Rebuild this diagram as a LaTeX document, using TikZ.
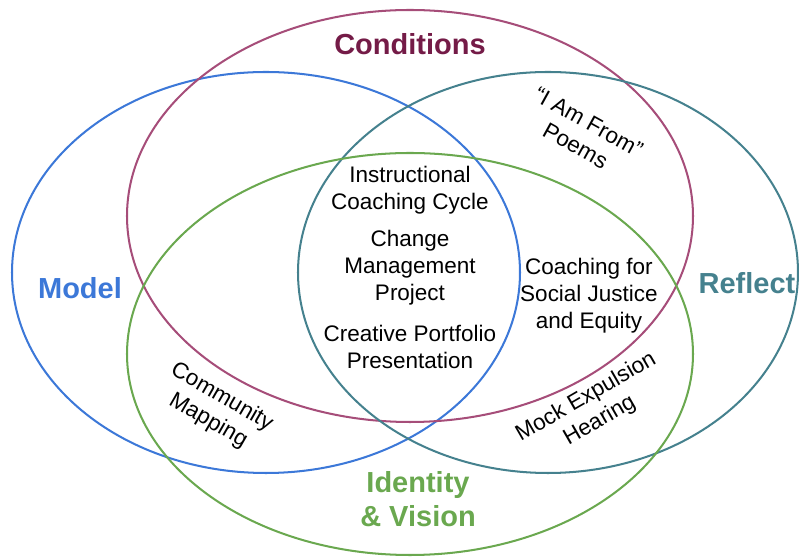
\documentclass[tikz,border=0pt]{standalone}
\usepackage{fontspec}
\setmainfont{Liberation Sans}
\usepackage{xcolor}
\usetikzlibrary{positioning}
\definecolor{gModel}{HTML}{3C78D8}
\definecolor{gCond}{HTML}{A64D79}
\definecolor{gCondText}{HTML}{741B47}
\definecolor{gReflect}{HTML}{45818E}
\definecolor{gIdent}{HTML}{6AA84F}
\tikzset{
  setring/.style={draw=#1, line width=1.15pt},
  setname/.style={font=\fontsize{16.5}{19.5}\selectfont\bfseries, text=#1, align=center, inner sep=0pt},
  item/.style={font=\fontsize{12.8}{15.4}\selectfont, align=center, inner sep=0pt}
}

\begin{document}
\begin{tikzpicture}
\useasboundingbox (0,0) rectangle (15.98,11.14);

% The four sets
\draw[setring=gModel]   (5.32,5.69) ellipse [x radius=5.08, y radius=4.01];
\draw[setring=gCond]    (8.20,6.82) ellipse [x radius=5.66, y radius=4.12];
\draw[setring=gReflect] (10.96,5.69) ellipse [x radius=5.00, y radius=4.01];
\draw[setring=gIdent]   (8.20,4.06) ellipse [x radius=5.66, y radius=4.02];

% Set names
\node[setname=gCondText] (conditions) at (8.20,10.26) {Conditions};
\node[setname=gModel]    (model)      at (1.60,5.38) {Model};
\node[setname=gReflect]  (reflect)    at (14.94,5.48) {Reflect};
\node[setname=gIdent]    (identity)   at (8.36,1.16) {Identity\\\& Vision};

% Centre of the diagram
\node[item] (coaching)  at (8.20,7.34) {Instructional\\Coaching Cycle};
\node[item] (change)    at (8.20,5.78) {Change\\Management\\Project};
\node[item] (portfolio) at (8.20,4.20) {Creative Portfolio\\Presentation};

% Overlaps
\node[item] (justice)   at (11.78,5.22) {Coaching for\\Social Justice\\and Equity};
\node[item, rotate=-29] (poems)     at (11.64,8.46) {``I Am From''\\Poems};
\node[item, rotate=-30] (mapping)   at (4.30,2.96) {Community\\Mapping};
\node[item, rotate=30]  (expulsion) at (11.86,2.96) {Mock Expulsion\\Hearing};

\end{tikzpicture}
\end{document}
